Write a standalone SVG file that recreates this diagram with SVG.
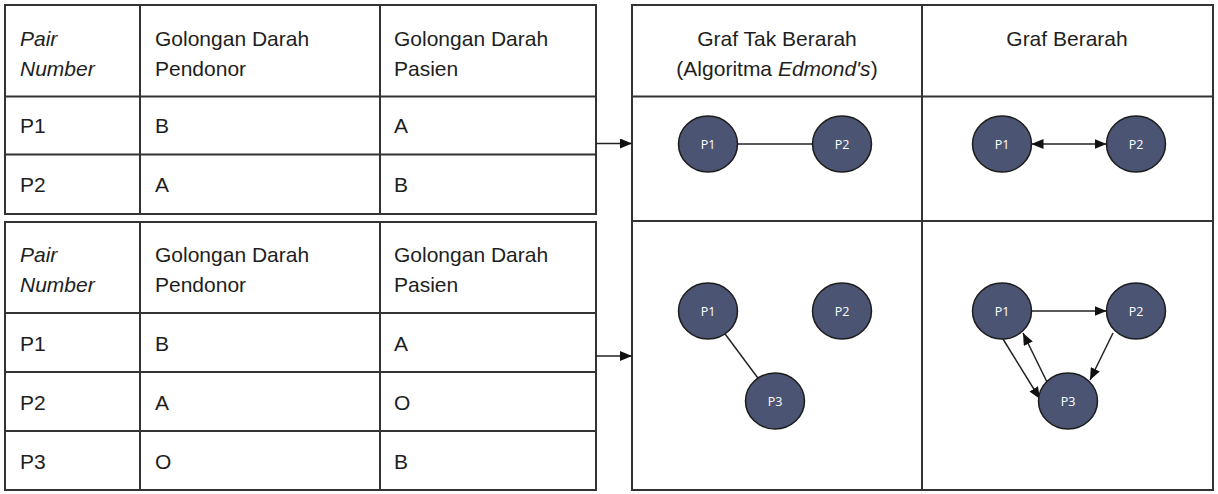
<svg xmlns="http://www.w3.org/2000/svg" width="1218" height="494" viewBox="0 0 1218 494">
<defs>
<marker id="ah" viewBox="0 0 12 10" refX="12" refY="5" markerWidth="12" markerHeight="10" markerUnits="userSpaceOnUse" orient="auto-start-reverse">
<path d="M0,0 L12,5 L0,10 z" fill="#111"/>
</marker>
<style>
.grid{fill:none;stroke:#333;stroke-width:2}
.gl{stroke:#333;stroke-width:2}
.t{font-family:"Liberation Sans",Arial,sans-serif;font-size:21px;fill:#1e1e1e}
.i{font-style:italic}
.node{fill:#4b5573;stroke:#1c1c1c;stroke-width:1.5}
.nl{font-family:"Open Sans","Noto Sans",sans-serif;font-size:12.5px;fill:#fff;text-anchor:middle}
.edge{stroke:#222;stroke-width:1.5;fill:none}
.arr{stroke:#222;stroke-width:1.5;fill:none;marker-end:url(#ah)}
</style>
</defs>
<rect width="1218" height="494" fill="#fff"/>

<g id="table1">
<rect class="grid" x="5" y="5" width="591" height="209"/>
<line class="gl" x1="5" y1="96.5" x2="596" y2="96.5"/>
<line class="gl" x1="5" y1="154.5" x2="596" y2="154.5"/>
<line class="gl" x1="140" y1="5" x2="140" y2="214"/>
<line class="gl" x1="380" y1="5" x2="380" y2="214"/>
<text class="t i" x="20" y="46">Pair</text>
<text class="t i" x="20" y="76">Number</text>
<text class="t" x="155" y="46">Golongan Darah</text>
<text class="t" x="155" y="76">Pendonor</text>
<text class="t" x="394" y="46">Golongan Darah</text>
<text class="t" x="394" y="76">Pasien</text>
<text class="t" x="20" y="133">P1</text>
<text class="t" x="155" y="133">B</text>
<text class="t" x="394" y="133">A</text>
<text class="t" x="20" y="192">P2</text>
<text class="t" x="155" y="192">A</text>
<text class="t" x="394" y="192">B</text>
</g>

<g id="table2">
<rect class="grid" x="5" y="222" width="591" height="268"/>
<line class="gl" x1="5" y1="313" x2="596" y2="313"/>
<line class="gl" x1="5" y1="372" x2="596" y2="372"/>
<line class="gl" x1="5" y1="431" x2="596" y2="431"/>
<line class="gl" x1="140" y1="222" x2="140" y2="490"/>
<line class="gl" x1="380" y1="222" x2="380" y2="490"/>
<text class="t i" x="20" y="262">Pair</text>
<text class="t i" x="20" y="292">Number</text>
<text class="t" x="155" y="262">Golongan Darah</text>
<text class="t" x="155" y="292">Pendonor</text>
<text class="t" x="394" y="262">Golongan Darah</text>
<text class="t" x="394" y="292">Pasien</text>
<text class="t" x="20" y="351">P1</text>
<text class="t" x="155" y="351">B</text>
<text class="t" x="394" y="351">A</text>
<text class="t" x="20" y="410">P2</text>
<text class="t" x="155" y="410">A</text>
<text class="t" x="394" y="410">O</text>
<text class="t" x="20" y="469">P3</text>
<text class="t" x="155" y="469">O</text>
<text class="t" x="394" y="469">B</text>
</g>

<g id="panel">
<rect class="grid" x="632" y="5" width="581" height="485"/>
<line class="gl" x1="632" y1="96.5" x2="1213" y2="96.5"/>
<line class="gl" x1="632" y1="221" x2="1213" y2="221"/>
<line class="gl" x1="922" y1="5" x2="922" y2="490"/>
<text class="t" x="777" y="46" text-anchor="middle">Graf Tak Berarah</text>
<text class="t" x="777" y="76" text-anchor="middle">(Algoritma <tspan class="i">Edmond's</tspan>)</text>
<text class="t" x="1067" y="46" text-anchor="middle">Graf Berarah</text>
</g>

<g id="connectors">
<line class="arr" x1="596" y1="143.5" x2="632" y2="143.5"/>
<line class="arr" x1="596" y1="356" x2="632" y2="356"/>
<line class="edge" x1="708" y1="144" x2="842" y2="144"/>
<line class="arr" x1="1031.5" y1="144" x2="1106.5" y2="144" style="marker-start:url(#ah)"/>
<line class="edge" x1="708" y1="311" x2="775" y2="401"/>
<line class="arr" x1="1031.5" y1="311" x2="1106.5" y2="311"/>
<line class="arr" x1="1113" y1="333" x2="1090" y2="380"/>
<line class="arr" x1="1003" y1="339" x2="1040" y2="399"/>
<line class="arr" x1="1047" y1="382" x2="1023" y2="333"/>
</g>

<g id="u_p1"><ellipse class="node" cx="708" cy="144" rx="29.5" ry="28"/><text class="nl" x="708" y="148.5">P1</text></g>
<g id="u_p2"><ellipse class="node" cx="842" cy="144" rx="29.5" ry="28"/><text class="nl" x="842" y="148.5">P2</text></g>
<g id="d_p1"><ellipse class="node" cx="1002" cy="144" rx="29.5" ry="28"/><text class="nl" x="1002" y="148.5">P1</text></g>
<g id="d_p2"><ellipse class="node" cx="1136" cy="144" rx="29.5" ry="28"/><text class="nl" x="1136" y="148.5">P2</text></g>
<g id="u2_p1"><ellipse class="node" cx="708" cy="311" rx="29.5" ry="28"/><text class="nl" x="708" y="315.5">P1</text></g>
<g id="u2_p2"><ellipse class="node" cx="842" cy="311" rx="29.5" ry="28"/><text class="nl" x="842" y="315.5">P2</text></g>
<g id="u2_p3"><ellipse class="node" cx="775" cy="401" rx="29.5" ry="28"/><text class="nl" x="775" y="405.5">P3</text></g>
<g id="d2_p1"><ellipse class="node" cx="1002" cy="311" rx="29.5" ry="28"/><text class="nl" x="1002" y="315.5">P1</text></g>
<g id="d2_p2"><ellipse class="node" cx="1136" cy="311" rx="29.5" ry="28"/><text class="nl" x="1136" y="315.5">P2</text></g>
<g id="d2_p3"><ellipse class="node" cx="1068" cy="401" rx="29.5" ry="28"/><text class="nl" x="1068" y="405.5">P3</text></g>
</svg>
